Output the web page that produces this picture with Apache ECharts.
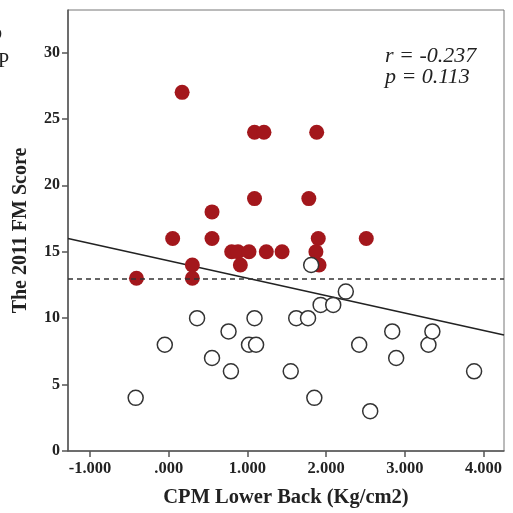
<!DOCTYPE html>
<html>
<head>
<meta charset="utf-8">
<script src="https://cdn.jsdelivr.net/npm/echarts@6/dist/echarts.min.js"></script>
<style>html,body{margin:0;padding:0;background:#fff}#c{width:513px;height:513px}</style>
</head>
<body>
<div id="c"></div>
<script>
// Group above cut-off (filled red): [CPM Lower Back, FM score]
const aboveX = [-0.41, 0.05, 0.17, 0.30, 0.30, 0.55, 0.55, 0.80, 0.88, 0.91, 1.02, 1.09, 1.21, 1.09, 1.24, 1.44, 1.78, 1.88, 1.90, 1.87, 1.91, 2.51];
const aboveY = [13, 16, 27, 14, 13, 18, 16, 15, 15, 14, 15, 24, 24, 19, 15, 15, 19, 24, 16, 15, 14, 16];
// Group below cut-off (hollow)
const belowX = [-0.42, -0.05, 0.36, 0.55, 0.76, 0.79, 1.02, 1.09, 1.11, 1.55, 1.62, 1.77, 1.81, 1.85, 1.93, 2.09, 2.25, 2.42, 2.56, 2.84, 2.89, 3.30, 3.35, 3.88];
const belowY = [4, 8, 10, 7, 9, 6, 8, 10, 8, 6, 10, 10, 14, 4, 11, 11, 12, 8, 3, 9, 7, 8, 9, 6];
// Fit line and cut-off
const fitIntercept = 14.32;
const fitSlope = -1.31;
const cutoff = 13;
const xTicks = [-1, 0, 1, 2, 3, 4];
const yTicks = [0, 5, 10, 15, 20, 25, 30];
const xRange = [-1.28, 4.26];
const yRange = [0, 33.2];
const statR = 'r = -0.237';
const statP = 'p = 0.113';

const fitData = xRange.map(x => [x, fitIntercept + fitSlope * x]);
const serif = '"Liberation Serif", "Times New Roman", serif';
const axisColor = '#555';

const chart = echarts.init(document.getElementById('c'), null, {renderer: 'canvas'});
chart.setOption({
  animation: false,
  grid: {left: 68, top: 10, right: 9, bottom: 60, show: true, borderColor: '#777', borderWidth: 1},
  xAxis: {
    type: 'value', min: xRange[0], max: xRange[1],
    splitLine: {show: false},
    axisLine: {show: true, onZero: false, lineStyle: {color: axisColor, width: 1.5}},
    axisTick: {show: true, length: 6, customValues: xTicks, lineStyle: {color: axisColor, width: 1.5}},
    axisLabel: {customValues: xTicks, margin: 9, color: '#222', fontFamily: serif, fontWeight: 'bold', fontSize: 16.5,
      formatter: v => { const s = Math.abs(v).toFixed(3); const t = (Math.abs(v) < 1e-9) ? s.replace(/^0/, '') : s; return (v < 0 ? '-' : '') + t; }},
    name: 'CPM Lower Back (Kg/cm2)', nameLocation: 'middle', nameGap: 36,
    nameTextStyle: {color: '#222', fontFamily: serif, fontWeight: 'bold', fontSize: 20.5}
  },
  yAxis: {
    type: 'value', min: yRange[0], max: yRange[1],
    splitLine: {show: false},
    axisLine: {show: true, onZero: false, lineStyle: {color: axisColor, width: 1.5}},
    axisTick: {show: true, length: 6, customValues: yTicks, lineStyle: {color: axisColor, width: 1.5}},
    axisLabel: {customValues: yTicks, margin: 8, color: '#222', fontFamily: serif, fontWeight: 'bold', fontSize: 16},
    name: 'The 2011 FM Score', nameLocation: 'middle', nameGap: 37, nameRotate: 90,
    nameTextStyle: {color: '#222', fontFamily: serif, fontWeight: 'bold', fontSize: 20}
  },
  series: [
    {
      type: 'line', data: fitData, showSymbol: false, symbol: 'none', z: 1,
      lineStyle: {color: '#222', width: 1.5},
      markLine: {silent: true, symbol: 'none', label: {show: false},
        lineStyle: {color: '#333', width: 1.5, type: [5, 4]},
        data: [{yAxis: cutoff}]}
    },
    {
      type: 'scatter', z: 2, symbol: 'circle', symbolSize: 15,
      itemStyle: {color: '#a3171c', opacity: 1},
      data: aboveX.map((x, i) => [x, aboveY[i]])
    },
    {
      type: 'scatter', z: 3, symbol: 'circle', symbolSize: 15,
      itemStyle: {color: '#fff', borderColor: '#333', borderWidth: 1.5, opacity: 1},
      data: belowX.map((x, i) => [x, belowY[i]])
    }
  ],
  graphic: [
    {type: 'text', left: 385, top: 45, style: {text: statR + '\n' + statP, font: 'italic 22px ' + serif, fill: '#222', lineHeight: 21}},
    {type: 'text', left: -2, top: 52, style: {text: 'P', font: '20px ' + serif, fill: '#222'}},
    {type: 'text', left: -9, top: 24, style: {text: 'b', font: 'bold 20px ' + serif, fill: '#222'}}
  ]
});
</script>
</body>
</html>
